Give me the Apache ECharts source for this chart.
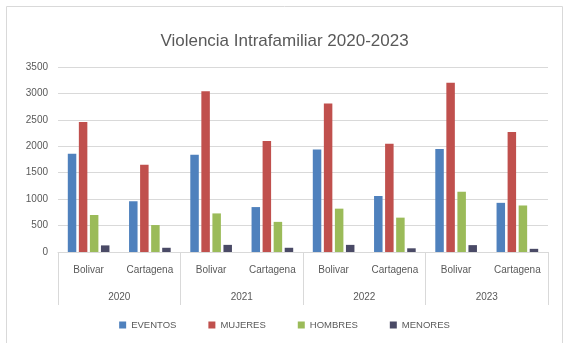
<!DOCTYPE html>
<html><head><meta charset="utf-8">
<script src="https://cdn.jsdelivr.net/npm/echarts@6/dist/echarts.min.js"></script>
<style>html,body{margin:0;padding:0;background:#fff}#c{width:569px;height:343px}</style>
</head><body><div id="c"></div>
<script>
const categories = ['Bolivar','Cartagena','Bolivar','Cartagena','Bolivar','Cartagena','Bolivar','Cartagena'];
const years = ['2020','2021','2022','2023'];
const seriesNames = ['EVENTOS','MUJERES','HOMBRES','MENORES'];
const eventos = [1860, 960, 1840, 850, 1940, 1060, 1950, 930];
const mujeres = [2460, 1650, 3040, 2100, 2810, 2050, 3200, 2270];
const hombres = [700, 510, 730, 570, 820, 650, 1140, 880];
const menores = [125, 80, 135, 80, 135, 70, 130, 60];
const colors = ['#4F81BD','#C0504D','#9BBB59','#4A4A66'];
const values = [eventos, mujeres, hombres, menores];
const font = 'Liberation Sans, Arial, sans-serif';

const chart = echarts.init(document.getElementById('c'));
chart.setOption({
  animation: false,
  textStyle: {fontFamily: font},
  graphic: [{type:'rect', shape:{x:6.5,y:6.5,width:556,height:345}, style:{fill:'none', stroke:'#d9d9d9', lineWidth:1}}],
  title: {text:'Violencia Intrafamiliar 2020-2023', left:'center', top:28,
    textStyle:{fontSize:17, fontWeight:'normal', color:'#595959', fontFamily:font}},
  legend: {bottom:8, left:'center', itemWidth:7, itemHeight:7, itemGap:32, icon:'rect',
    textStyle:{fontSize:9.5, color:'#595959'}, data: seriesNames},
  grid: {left:58, right:21, top:67, bottom:91},
  xAxis: [
    {type:'category', data:categories, axisLine:{lineStyle:{color:'#d9d9d9'}},
     axisTick:{show:false}, axisLabel:{color:'#595959', fontSize:10, margin:13}},
    {type:'category', data:years, position:'bottom', axisLine:{show:false},
     axisTick:{show:true, length:53, lineStyle:{color:'#d9d9d9'}},
     axisLabel:{color:'#595959', fontSize:10, margin:40}}
  ],
  yAxis: {type:'value', min:0, max:3500, interval:500,
    axisLine:{show:false}, axisTick:{show:false},
    axisLabel:{color:'#595959', fontSize:10, margin:10, formatter: v => String(v)},
    splitLine:{lineStyle:{color:'#d9d9d9'}}},
  series: seriesNames.map((n,i)=>({
    name:n, type:'bar', xAxisIndex:0, data:values[i], barWidth:8.5, barGap:'30%',
    itemStyle:{color:colors[i]}
  }))
});
</script></body></html>
